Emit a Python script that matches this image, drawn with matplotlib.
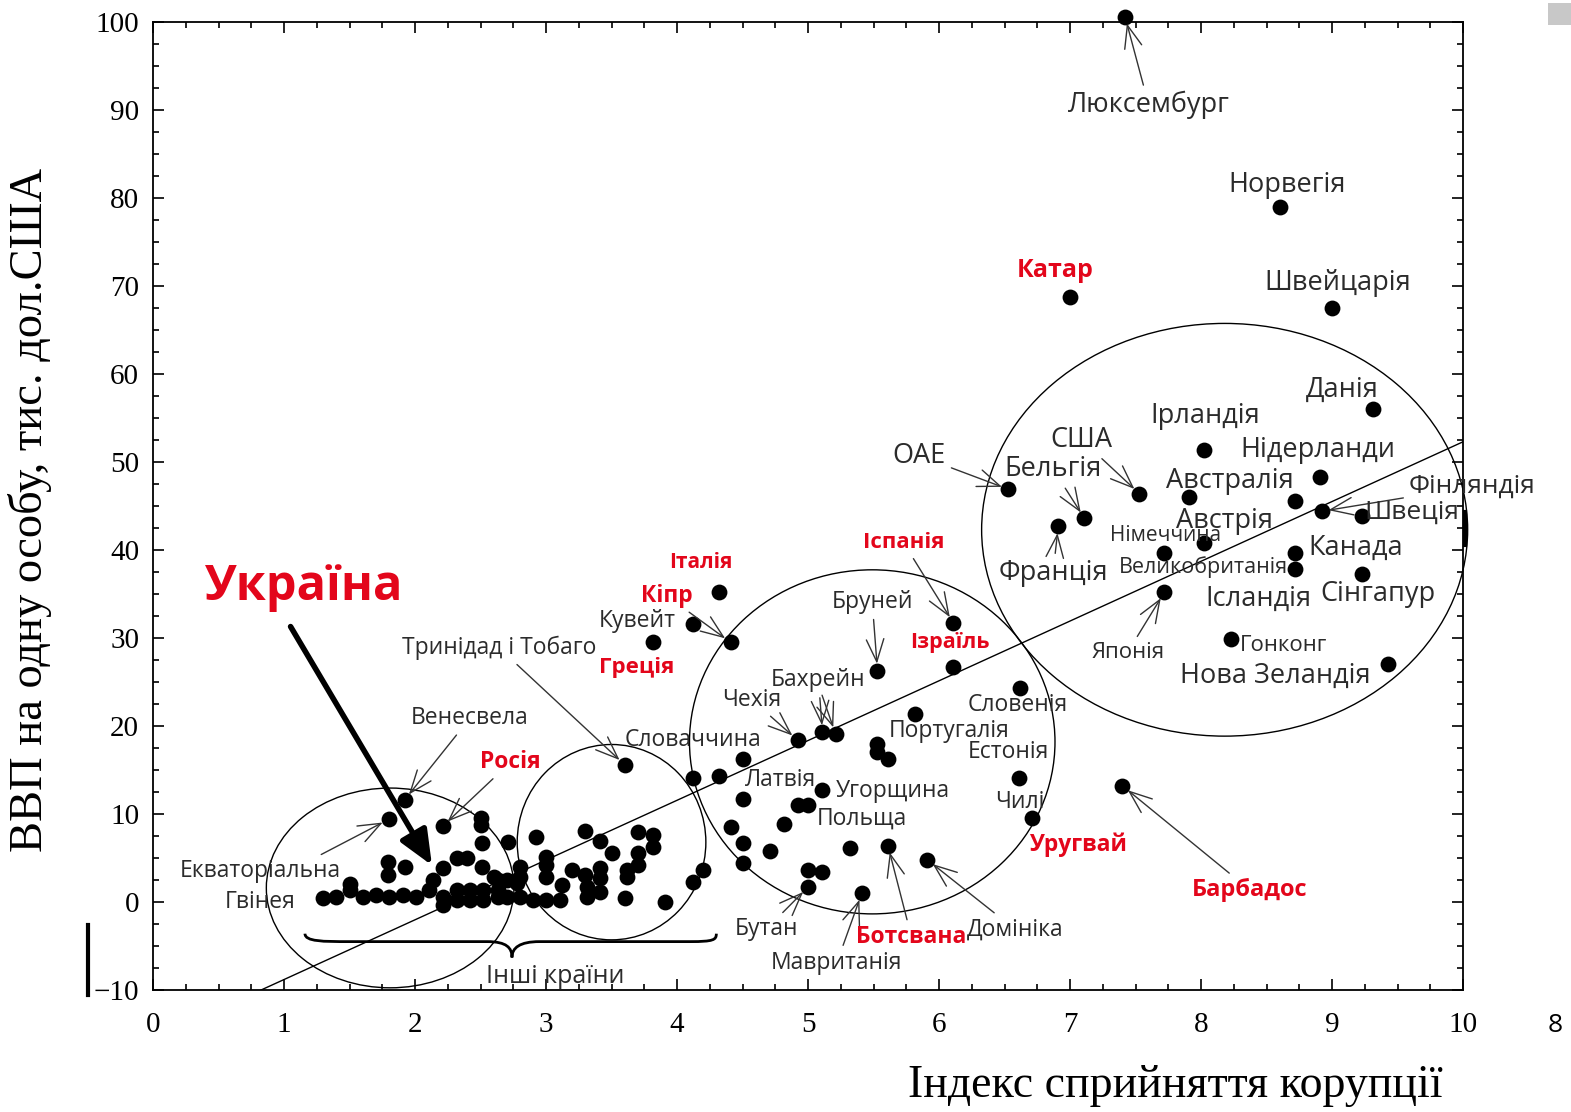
import numpy as np
import matplotlib.pyplot as plt
from matplotlib.patches import Ellipse, PathPatch, Rectangle
from matplotlib.path import Path
from matplotlib.ticker import MultipleLocator
from matplotlib.lines import Line2D

plt.rcParams['font.family'] = ['Open Sans', 'DejaVu Sans']

# країни з підписами: індекс сприйняття корупції / ВВП на особу, тис. дол. США
named = ['Люксембург', 'Норвегія', 'Катар', 'Швейцарія', 'Данія', 'Ірландія',
         'Нідерланди', 'ОАЕ', 'США', 'Австралія', 'Фінляндія', 'Швеція',
         'Бельгія', 'Франція', 'Австрія', 'Німеччина', 'Канада',
         'Великобританія', 'Сінгапур', 'Японія', 'Гонконг', 'Нова Зеландія',
         'Італія', 'Кувейт', 'Кіпр', 'Греція', 'Іспанія', 'Бруней', 'Ізраїль',
         'Словенія', 'Португалія', 'Чехія', 'Бахрейн', 'Тринідад і Тобаго',
         'Естонія', 'Чилі', 'Барбадос', 'Ботсвана', 'Домініка', 'Бутан',
         'Мавританія', 'Венесуела', 'Екваторіальна Гвінея', 'Росія', 'Україна']
named_cpi = [7.42, 8.6, 7.0, 9.0, 9.31, 8.02, 8.91, 6.53, 7.53, 7.91, 8.92, 9.23,
             7.11, 6.91, 8.02, 7.72, 8.72, 8.72, 9.23, 7.72, 8.23, 9.43,
             4.32, 4.12, 4.41, 3.82, 6.11, 5.53, 6.11, 6.62, 5.82, 4.92, 5.11, 3.6,
             6.61, 6.71, 7.40, 5.61, 5.91, 5.0, 5.41, 1.92, 1.80, 2.21, 2.21]
named_gdp = [100.6, 79.0, 68.8, 67.5, 56.0, 51.4, 48.3, 46.9, 46.4, 46.0, 44.4, 43.9,
             43.6, 42.7, 40.8, 39.7, 39.7, 37.8, 37.3, 35.2, 29.9, 27.0,
             35.2, 31.6, 29.5, 29.5, 31.7, 26.3, 26.7, 24.3, 21.4, 18.4, 19.3, 15.6,
             14.1, 9.5, 13.2, 6.4, 4.8, 1.7, 1.0, 11.6, 9.4, 8.6, 3.9]

# інші країни (без підписів)
other_cpi = [8.72, 5.21, 5.53, 5.53, 5.61, 4.5, 4.12, 4.32, 5.11, 4.92, 5.0, 4.5,
             4.41, 4.82, 4.5, 4.71, 5.32, 4.5, 5.0, 5.11, 4.2, 4.12,
             2.5, 2.5, 2.51, 1.79, 1.79, 1.92, 2.32, 2.4, 2.51, 2.14, 1.5, 2.6,
             1.30, 1.40, 1.50, 1.60, 1.70, 1.80, 1.91, 2.01, 2.11, 2.21, 2.32, 2.42,
             2.52, 2.63, 2.21, 2.32, 2.42, 2.52,
             2.71, 2.92, 3.3, 3.41, 3.5, 3.7, 3.82, 3.82, 3.7, 3.7, 3.62, 3.62, 3.6,
             3.91, 3.0, 3.0, 3.0, 2.8, 2.8, 3.2, 3.3, 3.41, 3.41, 3.12, 3.31, 3.41,
             2.63, 2.7, 2.78, 2.63, 2.7, 2.8, 2.9, 3.0, 3.11, 3.31]
other_gdp = [45.6, 19.1, 18.0, 17.0, 16.3, 16.3, 14.1, 14.3, 12.7, 11.0, 11.0, 11.7,
             8.5, 8.9, 6.7, 5.8, 6.1, 4.4, 3.6, 3.4, 3.6, 2.3,
             9.5, 8.75, 6.7, 4.5, 3.1, 4.0, 5.0, 5.0, 4.0, 2.5, 2.0, 2.8,
             0.45, 0.6, 1.4, 0.6, 0.8, 0.6, 0.8, 0.6, 1.4, 0.6, 1.4, 1.4,
             1.4, 1.4, -0.3, 0.2, 0.2, 0.2,
             6.8, 7.4, 8.1, 6.9, 5.6, 8.0, 7.6, 6.3, 5.6, 4.2, 3.6, 2.8, 0.5,
             0.0, 5.1, 4.2, 2.8, 4.0, 2.8, 3.6, 3.1, 3.9, 2.7, 1.9, 1.7, 1.1,
             2.5, 2.5, 2.2, 0.6, 0.6, 0.6, 0.2, 0.2, 0.2, 0.6]

# лінія тренду
trend_slope = 6.79
trend_icept = -15.6

RED = '#e3061b'
INK = '#2b2b2b'

fig = plt.figure(figsize=(15.71, 11.12), dpi=100)
ax = fig.add_axes([0.0974, 0.1097, 0.8339, 0.8705])
ax.set_xlim(0, 10)
ax.set_ylim(-10, 100)

ax.scatter(named_cpi, named_gdp, s=130, color='black', zorder=5, clip_on=False, linewidths=0)
ax.scatter(other_cpi, other_gdp, s=130, color='black', zorder=5, linewidths=0)

tx = np.array([(-10 - trend_icept) / trend_slope, 10])
ax.plot(tx, trend_slope * tx + trend_icept, color='black', lw=1)

# групи країн
for cx, cy, w, h in [(1.81, 1.6, 1.89, 22.7), (3.50, 6.8, 1.44, 22.2),
                     (5.49, 18.2, 2.79, 39.1), (8.18, 42.3, 3.71, 46.9)]:
    ax.add_patch(Ellipse((cx, cy), w, h, fill=False, lw=1, ec='black', clip_on=False))

# фігурна дужка "Інші країни"
brace = Path([(1.16, -3.6), (1.16, -4.5), (1.3, -4.5), (1.5, -4.5),
              (2.55, -4.5),
              (2.7, -4.5), (2.74, -5.2), (2.74, -6.3),
              (2.74, -5.2), (2.8, -4.5), (2.95, -4.5),
              (4.1, -4.5),
              (4.28, -4.5), (4.3, -4.3), (4.3, -3.6)],
             [Path.MOVETO, Path.CURVE4, Path.CURVE4, Path.CURVE4,
              Path.LINETO,
              Path.CURVE4, Path.CURVE4, Path.CURVE4,
              Path.CURVE4, Path.CURVE4, Path.CURVE4,
              Path.LINETO,
              Path.CURVE4, Path.CURVE4, Path.CURVE4])
ax.add_patch(PathPatch(brace, fill=False, lw=2, ec='black'))
ax.text(3.07, -8.5, 'Інші країни', fontsize=18, color=INK, ha='center', va='center')

# підписи: текст, x, y, розмір, червоний, стрілка до країни
labels = [
    ('Люксембург', 7.60, 90.6, 19.5, False, 'Люксембург'),
    ('Норвегія', 8.66, 81.5, 19.5, False, None),
    ('Катар', 6.89, 71.8, 18, True, None),
    ('Швейцарія', 9.04, 70.3, 19.5, False, None),
    ('Данія', 9.08, 58.2, 19.5, False, None),
    ('Ірландія', 8.03, 55.2, 19.5, False, None),
    ('Нідерланди', 8.89, 51.4, 19.5, False, None),
    ('США', 7.09, 52.5, 19.5, False, 'США'),
    ('Бельгія', 6.87, 49.2, 19.5, False, 'Бельгія'),
    ('ОАЕ', 5.85, 50.7, 19.5, False, 'ОАЕ'),
    ('Австралія', 8.22, 47.8, 19.5, False, None),
    ('Фінляндія', 10.07, 47.2, 19, False, 'Фінляндія'),
    ('Швеція', 9.61, 44.3, 19, False, None),
    ('Австрія', 8.18, 43.3, 19.5, False, None),
    ('Німеччина', 7.73, 41.6, 15, False, None),
    ('Канада', 9.18, 40.3, 19.5, False, None),
    ('Франція', 6.87, 37.4, 19.5, False, 'Франція'),
    ('Великобританія', 8.02, 38.1, 15.5, False, None),
    ('Ісландія', 8.44, 34.5, 19.5, False, None),
    ('Сінгапур', 9.35, 35.0, 19.5, False, None),
    ('Японія', 7.44, 28.4, 16, False, 'Японія'),
    ('Гонконг', 8.63, 29.1, 16, False, None),
    ('Нова Зеландія', 8.57, 25.7, 19.5, False, None),
    ('Іспанія', 5.73, 40.8, 16, True, 'Іспанія'),
    ('Ізраїль', 6.08, 29.5, 15.5, True, None),
    ('Бруней', 5.49, 34.1, 16.5, False, 'Бруней'),
    ('Бахрейн', 5.08, 25.2, 16.5, False, 'Бахрейн'),
    ('Чехія', 4.57, 23.0, 16.5, False, 'Чехія'),
    ('Словаччина', 4.12, 18.4, 16.5, False, None),
    ('Тринідад і Тобаго', 2.64, 28.9, 16.5, False, 'Тринідад і Тобаго'),
    ('Португалія', 6.08, 19.4, 16.5, False, None),
    ('Словенія', 6.60, 22.4, 16.5, False, None),
    ('Естонія', 6.53, 17.0, 16.5, False, None),
    ('Чилі', 6.62, 11.4, 16.5, False, None),
    ('Уругвай', 7.06, 6.5, 16.5, True, None),
    ('Барбадос', 8.37, 1.4, 17, True, 'Барбадос'),
    ('Латвія', 4.79, 13.9, 16.5, False, None),
    ('Угорщина', 5.65, 12.6, 16.5, False, None),
    ('Польща', 5.41, 9.5, 16.5, False, None),
    ('Бутан', 4.68, -3.1, 16.5, False, 'Бутан'),
    ('Мавританія', 5.22, -6.9, 16.5, False, 'Мавританія'),
    ('Ботсвана', 5.79, -4.0, 16.5, True, 'Ботсвана'),
    ('Домініка', 6.58, -3.1, 16.5, False, 'Домініка'),
    ('Кувейт', 3.70, 31.9, 16.5, False, None),
    ('Кіпр', 3.92, 34.8, 16.5, True, 'Кіпр'),
    ('Італія', 4.18, 38.6, 15, True, None),
    ('Греція', 3.69, 26.6, 16, True, None),
    ('Росія', 2.73, 15.9, 16.5, True, 'Росія'),
    ('Венесвела', 2.42, 20.9, 16.5, False, 'Венесуела'),
    ('Екваторіальна\nГвінея', 0.82, 1.8, 16.5, False, 'Екваторіальна Гвінея'),
]

arrow_kw = dict(arrowstyle='->,head_length=0.9,head_width=0.35', color='#333333',
                lw=1, shrinkA=2, shrinkB=5, mutation_scale=18)
for text, lx, ly, size, red, target in labels:
    kw = dict(fontsize=size, ha='center', va='center',
              color=RED if red else INK, fontweight='bold' if red else 'normal',
              linespacing=1.4, annotation_clip=False, zorder=6)
    if target is None:
        ax.annotate(text, (lx, ly), **kw)
    else:
        i = named.index(target)
        ax.annotate(text, (named_cpi[i], named_gdp[i]), xytext=(lx, ly),
                    arrowprops=arrow_kw, **kw)

# друга стрілка від "Бахрейн"
ax.annotate('', (5.21, 19.1), xytext=(5.10, 23.8), arrowprops=arrow_kw)

# Україна
iu = named.index('Україна')
ax.text(1.15, 35.7, 'Україна', fontsize=35, fontweight='bold', color=RED,
        ha='center', va='center', zorder=7)
ax.annotate('', (named_cpi[iu] - 0.07, named_gdp[iu]), xytext=(1.05, 31.3),
            arrowprops=dict(arrowstyle='-|>,head_length=0.7,head_width=0.3',
                            color='black', lw=4, shrinkA=0, shrinkB=2,
                            mutation_scale=30), zorder=7)

# осі
ax.xaxis.set_major_locator(MultipleLocator(1))
ax.xaxis.set_minor_locator(MultipleLocator(0.25))
ax.yaxis.set_major_locator(MultipleLocator(10))
ax.yaxis.set_minor_locator(MultipleLocator(2.5))
ax.tick_params(which='both', direction='in', top=True, right=True, width=1.2)
ax.tick_params(which='major', length=8)
ax.tick_params(which='minor', length=4)
ax.tick_params(axis='x', pad=16)
ax.tick_params(axis='y', pad=10)
for lab in ax.get_xticklabels() + ax.get_yticklabels():
    lab.set_fontfamily('Liberation Serif')
    lab.set_fontsize(21)
for sp in ax.spines.values():
    sp.set_linewidth(1.3)

fig.text(0.019, 0.541, 'ВВП на одну особу, тис. дол.США', rotation=90,
         fontsize=33.5, family='Liberation Serif', ha='center', va='center')
fig.text(0.9185, 0.024, 'Індекс сприйняття корупції', fontsize=33,
         family='Liberation Serif', ha='right', va='center')

# дрібні елементи слайда
fig.add_artist(Line2D([88 / 1571, 88 / 1571], [1 - 925 / 1112, 1 - 995 / 1112],
                      color='black', lw=3))
fig.add_artist(Line2D([1465 / 1571, 1465 / 1571], [1 - 512 / 1112, 1 - 545 / 1112],
                      color='black', lw=3))
fig.add_artist(Rectangle((1548 / 1571, 1 - 25 / 1112), 23 / 1571, 22 / 1112,
                         color='#c8c8c8', lw=0))
fig.text(1555 / 1571, 1 - 1025 / 1112, '8', fontsize=19, ha='center', va='center')

fig.savefig('out.png', dpi=100)
